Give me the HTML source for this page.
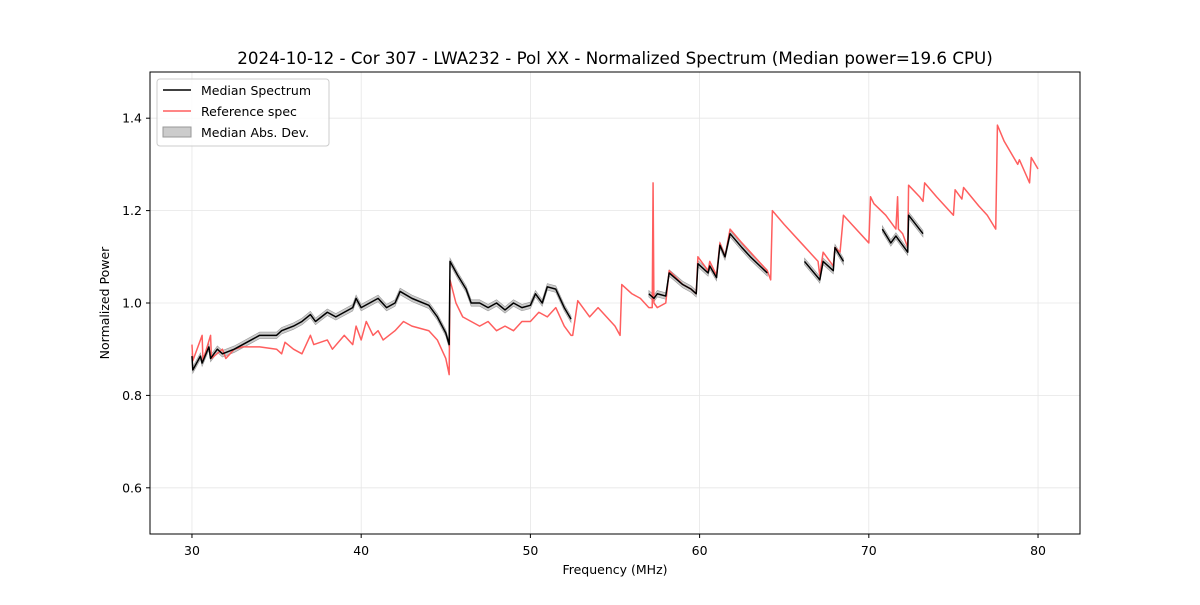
<!DOCTYPE html>
<html><head><meta charset="utf-8"><style>
body{margin:0;background:#fff;font-family:"Liberation Sans","DejaVu Sans",sans-serif}
</style></head><body>
<svg id="chart" width="1200" height="600" xmlns="http://www.w3.org/2000/svg" font-family="'DejaVu Sans','Liberation Sans',sans-serif">
<rect width="1200" height="600" fill="#fff"/>
<text x="615" y="64" text-anchor="middle" font-size="16.7">2024-10-12 - Cor 307 - LWA232 - Pol XX - Normalized Spectrum (Median power=19.6 CPU)</text>
<g id="grid"></g>
<g id="band"></g>
<g id="lines"></g>
<rect x="150" y="72" width="930" height="462" fill="none" stroke="#000" stroke-width="1"/>
<g id="ticks" font-size="12.5"></g>
<text x="615" y="574" text-anchor="middle" font-size="12.5">Frequency (MHz)</text>
<text transform="translate(109,303) rotate(-90)" text-anchor="middle" font-size="12.5">Normalized Power</text>
<g>
<rect x="157" y="79" width="172" height="67" rx="3" fill="#fff" fill-opacity="0.8" stroke="#ccc"/>
<line x1="163" y1="90" x2="191" y2="90" stroke="#000" stroke-width="1.6"/>
<text x="201" y="95" font-size="12.5">Median Spectrum</text>
<line x1="163" y1="111" x2="191" y2="111" stroke="#ff5e5e" stroke-width="1.6"/>
<text x="201" y="116" font-size="12.5">Reference spec</text>
<rect x="163" y="127" width="28" height="10" fill="#bbb" fill-opacity="0.75" stroke="#999"/>
<text x="201" y="137" font-size="12.5">Median Abs. Dev.</text>
</g>
</svg>
<script>
const xTicks=[30,40,50,60,70,80];
const yTicks=[0.6,0.8,1.0,1.2,1.4];
const refFreq=[30.0,30.05,30.6,30.65,31.1,31.15,31.8,32.0,32.5,33,34,35,35.3,35.5,36,36.5,37,37.2,38,38.3,39,39.5,39.7,40,40.3,40.7,41,41.3,42,42.5,43,44,44.5,45,45.2,45.25,45.6,46,46.5,47,47.5,48,48.5,49,49.5,50,50.5,51,51.5,52,52.4,52.5,52.8,53.5,54,54.5,55,55.3,55.4,56,56.5,57,57.2,57.25,57.3,57.5,58,58.2,59,59.5,59.8,59.9,60.5,60.6,61,61.2,61.5,61.8,62.5,63,64,64.2,64.3,65,66,66.5,67,67.1,67.3,67.9,68,68.3,68.5,69,70,70.1,70.3,71,71.6,71.7,71.75,72,72.3,72.35,73,73.2,73.3,74,75,75.1,75.5,75.6,76.5,77,77.5,77.6,78,78.8,78.9,79.5,79.6,80];
const refVal=[0.91,0.875,0.93,0.875,0.93,0.88,0.90,0.88,0.90,0.905,0.905,0.90,0.89,0.915,0.90,0.89,0.93,0.91,0.92,0.90,0.93,0.91,0.95,0.92,0.96,0.93,0.94,0.92,0.94,0.96,0.95,0.94,0.92,0.88,0.845,1.05,1.0,0.97,0.96,0.95,0.96,0.94,0.95,0.94,0.96,0.96,0.98,0.97,0.99,0.95,0.93,0.93,1.005,0.97,0.99,0.97,0.95,0.93,1.04,1.02,1.01,0.99,0.99,1.26,1.0,0.99,1.0,1.07,1.04,1.03,1.02,1.10,1.07,1.09,1.06,1.13,1.10,1.16,1.13,1.11,1.07,1.05,1.20,1.17,1.13,1.11,1.09,1.06,1.11,1.08,1.12,1.11,1.19,1.17,1.13,1.23,1.215,1.19,1.16,1.23,1.16,1.15,1.12,1.255,1.23,1.22,1.26,1.23,1.19,1.245,1.225,1.25,1.21,1.19,1.16,1.385,1.35,1.30,1.31,1.26,1.315,1.29];
const medFreq=[30,30.05,30.5,30.6,31,31.1,31.5,31.8,32.5,33,34,35,35.3,36,36.5,37,37.3,38,38.5,39,39.5,39.7,40,40.5,41,41.5,42,42.3,43,44,44.5,45,45.2,45.25,45.7,46.2,46.5,47,47.5,48,48.5,49,49.5,50,50.3,50.7,51,51.5,52,52.4,null,57.0,57.3,57.5,58,58.2,59,59.5,59.8,59.9,60.5,60.6,61,61.2,61.5,61.8,62.5,63,64,null,66.2,67,67.1,67.3,67.9,68,68.5,null,70.8,71.3,71.6,72.3,72.35,73.2];
const medVal=[0.885,0.855,0.885,0.87,0.905,0.88,0.9,0.89,0.90,0.91,0.93,0.93,0.94,0.95,0.96,0.975,0.96,0.98,0.97,0.98,0.99,1.01,0.99,1.0,1.01,0.99,1.0,1.025,1.01,0.995,0.97,0.935,0.91,1.09,1.06,1.03,1.0,1.0,0.99,1.0,0.985,1.0,0.99,0.995,1.02,1.0,1.035,1.03,0.99,0.965,null,1.02,1.01,1.02,1.015,1.065,1.04,1.03,1.02,1.085,1.065,1.08,1.055,1.125,1.10,1.15,1.12,1.10,1.065,null,1.09,1.055,1.05,1.09,1.07,1.12,1.09,null,1.16,1.13,1.145,1.11,1.19,1.15];
const madVal=0.007;
const X=f=>150+(f-27.52)*(930/(82.48-27.52));
const Y=v=>534-(v-0.5)*(462/1.0);
const NS='http://www.w3.org/2000/svg';
function mk(tag,parent,attrs){const e=document.createElementNS(NS,tag);for(const k in attrs)e.setAttribute(k,attrs[k]);document.getElementById(parent).appendChild(e);return e;}
xTicks.forEach(t=>{
 let g=mk('line','grid',{x1:X(t),x2:X(t),y1:72,y2:534,stroke:'#e6e6e6','stroke-width':0.8});
 
 
 mk('line','ticks',{x1:X(t),x2:X(t),y1:534,y2:538,stroke:'#000'});
 let l=mk('text','ticks',{x:X(t),y:555,'text-anchor':'middle'});l.textContent=t;
 
 
});
yTicks.forEach(t=>{
 let g=mk('line','grid',{x1:150,x2:1080,y1:Y(t),y2:Y(t),stroke:'#e6e6e6','stroke-width':0.8});
 
 
 mk('line','ticks',{x1:146,x2:150,y1:Y(t),y2:Y(t),stroke:'#000'});
 let l=mk('text','ticks',{x:142,y:Y(t)+4.5,'text-anchor':'end'});l.textContent=t.toFixed(1);
 
 
});
let segs=[],cur=[];
medFreq.forEach((f,i)=>{if(f===null){segs.push(cur);cur=[];}else cur.push([f,medVal[i]]);});
segs.push(cur);
segs.forEach(s=>{
 const up=s.map(p=>X(p[0])+','+Y(p[1]+madVal));
 const dn=s.slice().reverse().map(p=>X(p[0])+','+Y(p[1]-madVal));
 const b=mk('polygon','band',{points:up.concat(dn).join(' '),fill:'#aaa','fill-opacity':0.6,stroke:'#999','stroke-width':0.6});
 
 
});
const rp=refFreq.map((f,i)=>(i?'L':'M')+X(f)+','+Y(refVal[i])).join('');
const r=mk('path','lines',{d:rp,fill:'none',stroke:'#ff5e5e','stroke-width':1.5,'stroke-linejoin':'round'});


segs.forEach(s=>{
 const d=s.map((p,i)=>(i?'L':'M')+X(p[0])+','+Y(p[1])).join('');
 const m=mk('path','lines',{d:d,fill:'none',stroke:'#000','stroke-width':1.5,'stroke-linejoin':'round'});
 
 
});
</script>
</body></html>
